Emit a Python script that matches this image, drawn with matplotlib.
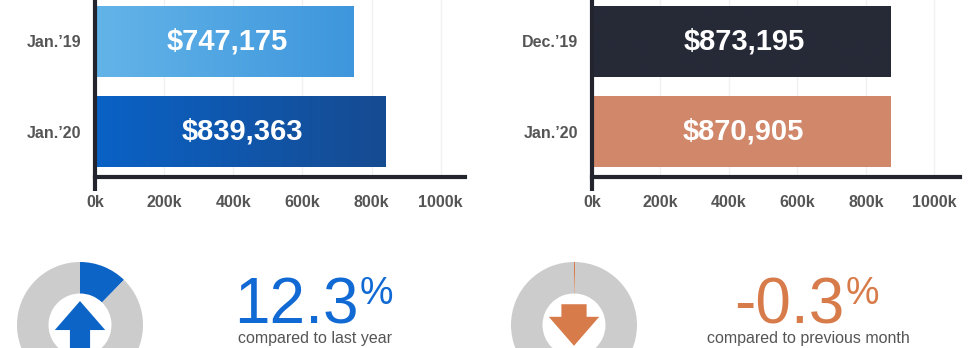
"""Median price comparison: two horizontal bar panels with change donuts below."""
import numpy as np
import matplotlib
matplotlib.use("Agg")
import matplotlib.pyplot as plt
from matplotlib.colors import LinearSegmentedColormap
from matplotlib.patches import FancyArrow

# ── data ──────────────────────────────────────────────
year_labels = ["Jan.\u201919", "Jan.\u201920"]
year_values = [747175, 839363]
month_labels = ["Dec.\u201919", "Jan.\u201920"]
month_values = [873195, 870905]
year_change = 12.3      # %
month_change = -0.3     # %
xticks = [0, 200000, 400000, 600000, 800000, 1000000]
xtick_labels = ["0k", "200k", "400k", "600k", "800k", "1000k"]

# ── styling ───────────────────────────────────────────
W, H = 975, 348
DARK = "#22252d"
LABEL = "#555555"
BLUE = "#0b64c6"
BLUE_TXT = "#1169d4"
ORANGE = "#d87b4a"
RING = "#cccccc"
year_grads = [("#63b4e8", "#3e96dc"), ("#0a62c6", "#164b91")]
month_grads = [("#262a37", "#262a37"), ("#d2896b", "#d0876a")]
FONT = "Liberation Sans"


def fig_box(x0, y0, x1, y1):
    """pixel box (top-left origin) -> figure fraction rect"""
    return [x0 / W, 1 - y1 / H, (x1 - x0) / W, (y1 - y0) / H]


def bar_panel(fig, rect, labels, values, grads, xmax):
    ax = fig.add_axes(rect)
    ypos = np.arange(len(values))
    bars = ax.barh(ypos, values, height=0.78, color="none", zorder=2)
    for bar, (c0, c1), v in zip(bars, grads, values):
        cmap = LinearSegmentedColormap.from_list("g", [c0, c1])
        x0, y0 = bar.get_x(), bar.get_y()
        img = ax.imshow(np.linspace(0, 1, 256)[None, :], cmap=cmap, aspect="auto",
                        extent=[x0, x0 + bar.get_width(), y0 + bar.get_height(), y0],
                        zorder=2, interpolation="bilinear")
        img.set_clip_path(bar)
        ax.text(v / 2 + 8000, bar.get_y() + bar.get_height() / 2, f"${v:,.0f}",
                ha="center", va="center", color="white", fontsize=21,
                fontweight="bold", family=FONT, zorder=3)
    ax.set_xlim(0, xmax)
    ax.set_ylim(len(values) - 0.5, -0.5)
    ax.set_yticks(ypos)
    ax.set_yticklabels(labels)
    ax.set_xticks(xticks)
    ax.set_xticklabels(xtick_labels)
    for lab in ax.get_xticklabels() + ax.get_yticklabels():
        lab.set_family(FONT)
        lab.set_fontweight("bold")
        lab.set_color(LABEL)
        lab.set_fontsize(11.5)
    ax.tick_params(axis="x", length=0, pad=13)
    ax.tick_params(axis="y", length=0, pad=10)
    ax.grid(axis="x", color="#f1f1f1", linewidth=1, zorder=0)
    ax.set_axisbelow(True)
    for s in ("top", "right", "left"):
        ax.spines[s].set_visible(False)
    ax.spines["bottom"].set_color(DARK)
    ax.spines["bottom"].set_linewidth(3)
    ax.plot([0, 0], [-0.075, 1.05], transform=ax.transAxes, color=DARK,
            linewidth=3, clip_on=False, solid_capstyle="butt", zorder=4)
    return ax


def donut(fig, cx, cy, change, color, up):
    r = 63
    ax = fig.add_axes(fig_box(cx - r, cy - r, cx + r, cy + r))
    ax.pie([abs(change), 100 - abs(change)], colors=[color, RING], startangle=90,
           counterclock=False, radius=1, wedgeprops=dict(width=0.5, linewidth=0))
    if up:
        arr = FancyArrow(0, -0.6, 0, 0.98, width=0.32, head_width=0.80,
                         head_length=0.46, length_includes_head=True,
                         color=color, linewidth=0)
    else:
        arr = FancyArrow(0, 0.33, 0, -0.66, width=0.40, head_width=0.80,
                         head_length=0.46, length_includes_head=True,
                         color=color, linewidth=0)
    ax.add_patch(arr)
    ax.set_xlim(-1, 1)
    ax.set_ylim(-1, 1)
    ax.set_aspect("equal")
    ax.axis("off")
    return ax


def change_text(fig, cx, change, color, caption):
    num = f"{change:.1f}"
    t = fig.text(cx / W - 0.019, 1 - 323 / H, num, ha="center", va="baseline",
                 fontsize=46, color=color, family=FONT)
    fig.canvas.draw()
    bb = t.get_window_extent()
    fig.text(bb.x1 / W + 0.001, 1 - 276 / H, "%", ha="left", va="top",
             fontsize=27, color=color, family=FONT)
    fig.text(cx / W, 1 - 339 / H, caption, ha="center", va="center",
             fontsize=11.5, color=LABEL, family=FONT)


fig = plt.figure(figsize=(W / 100, H / 100), dpi=100)
fig.patch.set_facecolor("white")

bar_panel(fig, fig_box(95, -4, 465, 177), year_labels, year_values, year_grads, 1070000)
bar_panel(fig, fig_box(592, -4, 960, 177), month_labels, month_values, month_grads, 1075000)

donut(fig, 80, 325, year_change, BLUE, up=True)
donut(fig, 574, 325, month_change, ORANGE, up=False)

change_text(fig, 315, year_change, BLUE_TXT, "compared to last year")
change_text(fig, 808, month_change, ORANGE, "compared to previous month")

fig.savefig("out.png", dpi=100, facecolor="white")
